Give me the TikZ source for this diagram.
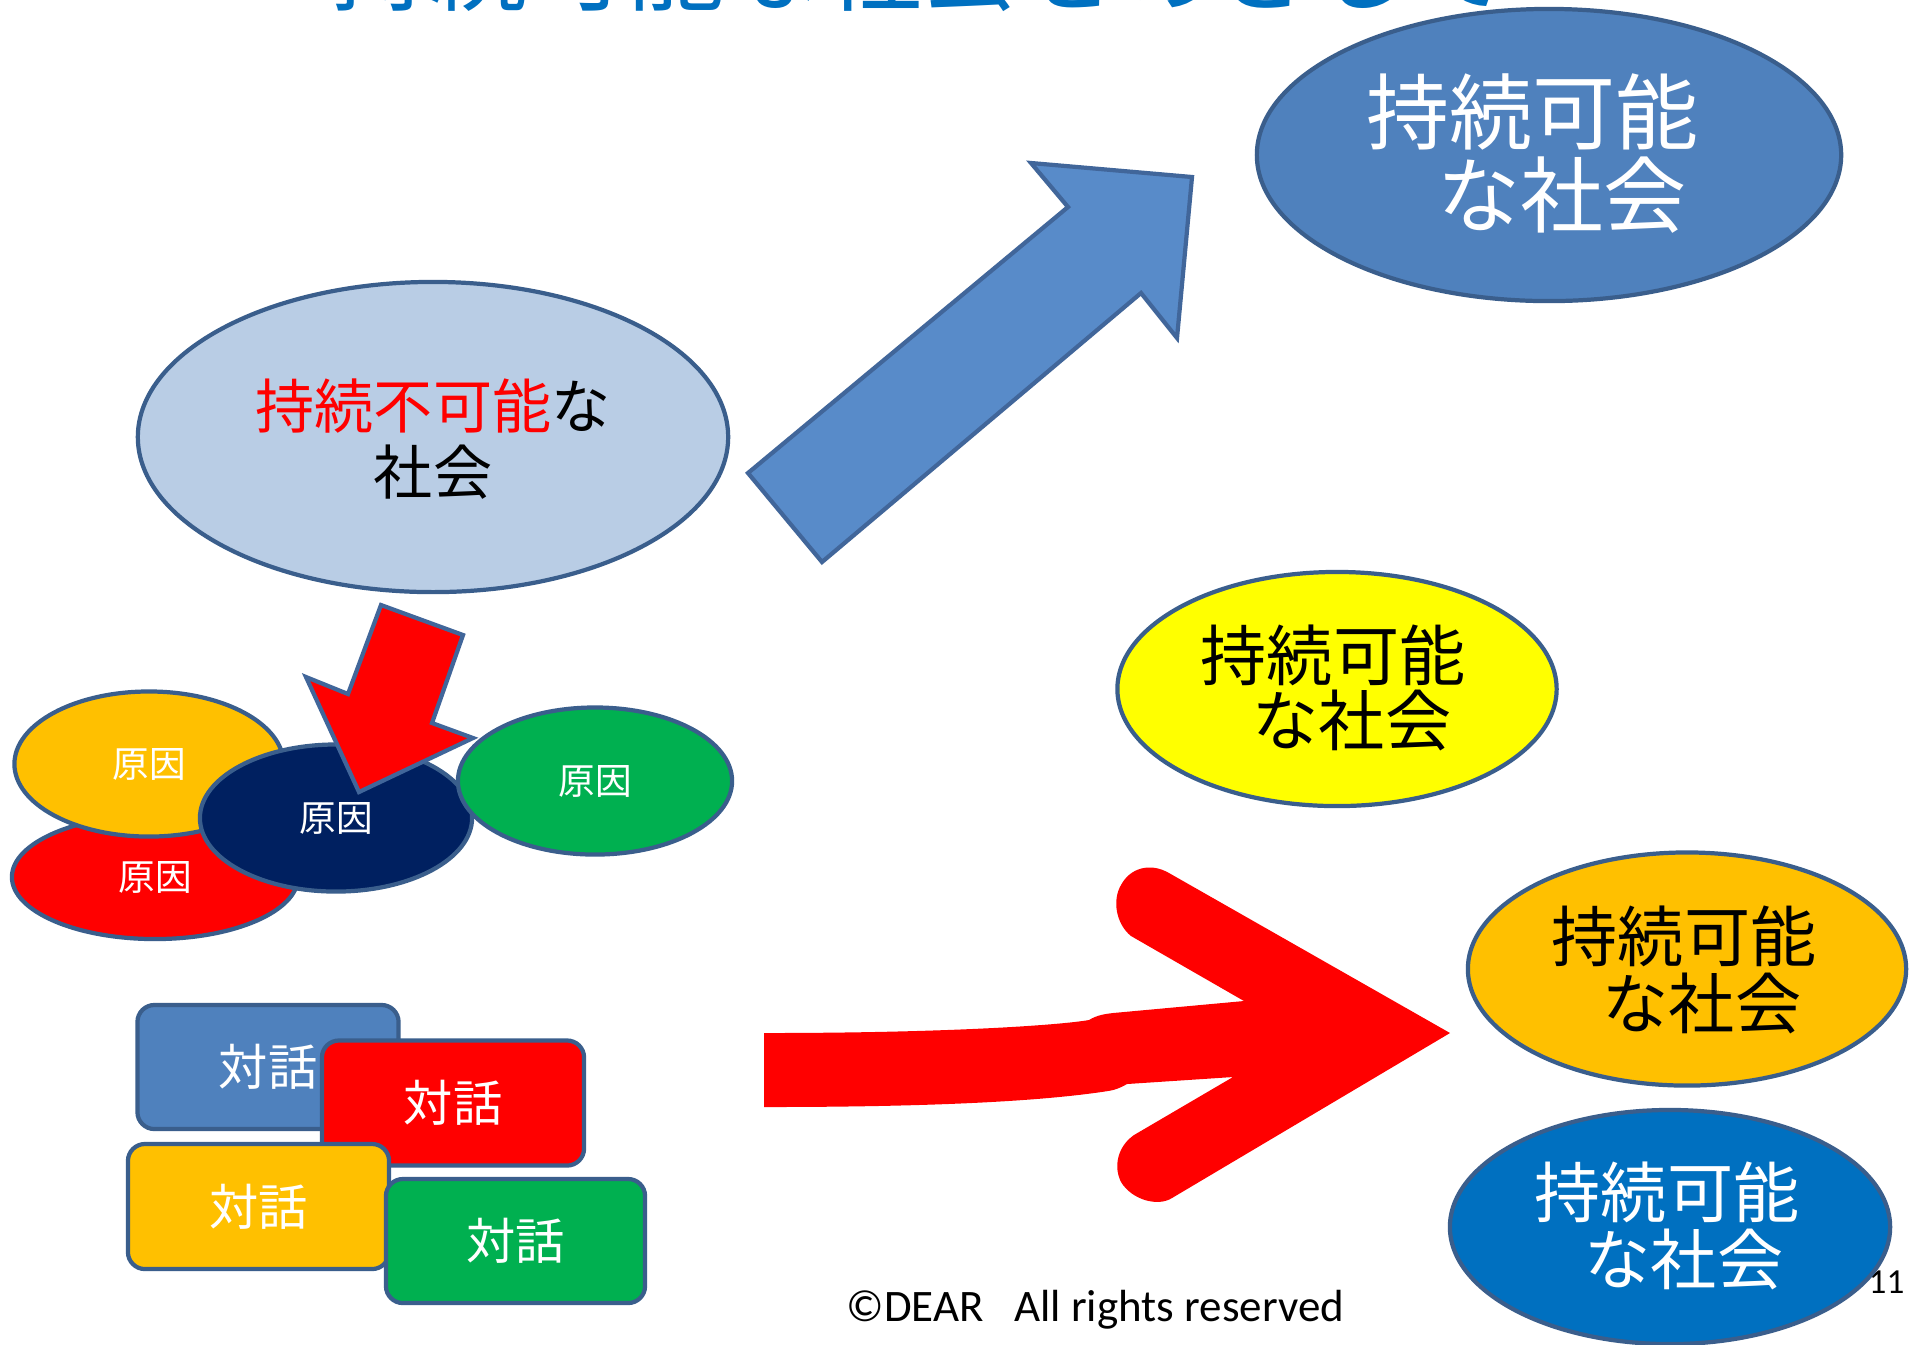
\documentclass[tikz,border=0pt]{standalone}
\usepackage{fontspec}
\newfontfamily\jp{Noto Sans CJK JP}
\newfontfamily\calfont{Carlito}
\usetikzlibrary{shapes.geometric}
\definecolor{bord}{HTML}{3A5E8C}
\definecolor{bigblue}{HTML}{4F81BD}
\definecolor{lightblue}{HTML}{B9CDE5}
\definecolor{arrowblue}{HTML}{588BC9}
\definecolor{arrowbord}{HTML}{41669A}
\definecolor{orng}{HTML}{FFC000}
\definecolor{navy}{HTML}{002060}
\definecolor{grn}{HTML}{00B050}
\definecolor{ylw}{HTML}{FFFF00}
\definecolor{blu}{HTML}{0070C0}
\tikzset{
  ell/.style={ellipse, draw=bord, line width=1.2pt, inner sep=0pt},
  cause/.style={ell, text=white, font=\jp\fontsize{10.4}{12}\selectfont},
  talk/.style={rectangle, rounded corners=0.17cm, draw=bord, line width=1.2pt, inner sep=0pt,
    text=white, font=\jp\fontsize{14}{16}\selectfont},
  big/.style={font=\jp\fontsize{23.6}{28}\selectfont, inner sep=0pt},
  mid/.style={font=\jp\fontsize{18.8}{22}\selectfont, inner sep=0pt},
  lbl/.style={font=\jp\fontsize{16.8}{20}\selectfont, inner sep=0pt},
}
\begin{document}
\begin{tikzpicture}[x=0.01cm,y=-0.01cm]
\useasboundingbox (0,0) rectangle (1913,1344);
\clip (0,0) rectangle (1913,1344);
\fill[white] (0,0) rectangle (1913,1344);

% title (cut off at top)
\node[anchor=base, text=blu, font=\jp\fontsize{28}{32}\selectfont, inner sep=0pt] (title) at (920,3) {持続可能な社会をめざして};

% top-right sustainable society
\node[ell, fill=bigblue, minimum width=5.84cm, minimum height=2.92cm] (sus1) at (1549,155) {};
\node[big, text=white] (sus1a) at (1532,112) {持続可能};
\node[big, text=white] (sus1b) at (1562,195) {な社会};

% unsustainable society
\node[ell, fill=lightblue, minimum width=5.9cm, minimum height=3.1cm] (unsus) at (433,437) {};
\node[lbl] (unsusa) at (433,406) {{\color{red}持続不可能}な};
\node[lbl] (unsusb) at (433,472) {社会};

% blue arrow
\filldraw[fill=arrowblue, draw=arrowbord, line width=1.2pt, line join=miter]
  (748,473) -- (822,562) -- (1141,293) -- (1177,338) -- (1192,177) -- (1031,163) -- (1068,207) -- cycle;

% causes
\node[cause, fill=red, minimum width=2.86cm, minimum height=1.24cm] (c1) at (155,877) {原因};
\node[cause, fill=orng, minimum width=2.69cm, minimum height=1.45cm] (c2) at (149,764) {原因};
\node[cause, fill=navy, minimum width=2.72cm, minimum height=1.47cm] (c3) at (336,818) {原因};
\node[cause, fill=grn, minimum width=2.74cm, minimum height=1.47cm] (c4) at (595,781) {原因};

% red down arrow
\filldraw[fill=red, draw=arrowbord, line width=1.2pt, line join=miter]
  (381,605) -- (463,635) -- (432,723) -- (473,738) -- (359,792) -- (306,677) -- (348,694) -- cycle;

% yellow sustainable society
\node[ell, fill=ylw, minimum width=4.39cm, minimum height=2.34cm] (sus2) at (1337,689) {};
\node[mid] (sus2a) at (1333,655) {持続可能};
\node[mid] (sus2b) at (1352,720) {な社会};

% big red arrow
\fill[red] (764,1033) .. controls (950,1033) and (1060,1025) .. (1089,1020)
  .. controls (1097,1015) and (1105,1014) .. (1113,1013) -- (1244,1001) -- (1131,936)
  .. controls (1116,924) and (1112,900) .. (1121,885)
  .. controls (1130,868) and (1150,862) .. (1169,873)
  -- (1450,1033) -- (1172,1198)
  .. controls (1158,1207) and (1132,1200) .. (1121,1182)
  .. controls (1113,1166) and (1118,1146) .. (1134,1135)
  -- (1233,1077) -- (1127,1084)
  .. controls (1120,1088) and (1115,1090) .. (1108,1091)
  .. controls (1050,1100) and (950,1107) .. (764,1107) -- cycle;

% orange sustainable society
\node[ell, fill=orng, minimum width=4.38cm, minimum height=2.33cm] (sus3) at (1687,969) {};
\node[mid] (sus3a) at (1684,936) {持続可能};
\node[mid] (sus3b) at (1702,1003) {な社会};

% page number
\node[anchor=base west, font=\calfont\fontsize{10}{12}\selectfont, inner sep=0pt] (pg) at (1868,1293) {11};

% blue sustainable society
\node[ell, fill=blu, minimum width=4.4cm, minimum height=2.34cm] (sus4) at (1670,1227) {};
\node[mid, text=white] (sus4a) at (1667,1192) {持続可能};
\node[mid, text=white] (sus4b) at (1684,1259) {な社会};

% dialogue boxes
\node[talk, fill=bigblue, minimum width=2.61cm, minimum height=1.24cm] (d1) at (268,1067) {対話};
\node[talk, fill=red, minimum width=2.62cm, minimum height=1.25cm] (d2) at (453,1103) {対話};
\node[talk, fill=orng, minimum width=2.61cm, minimum height=1.25cm] (d3) at (258.5,1206.5) {対話};
\node[talk, fill=grn, minimum width=2.59cm, minimum height=1.24cm] (d4) at (515.5,1241) {対話};

% footer
\node[anchor=base west, font=\calfont\fontsize{12.8}{16}\selectfont, inner sep=0pt] (foot) at (846,1321) {©DEAR\ \ \ All rights reserved};
\end{tikzpicture}
\end{document}
